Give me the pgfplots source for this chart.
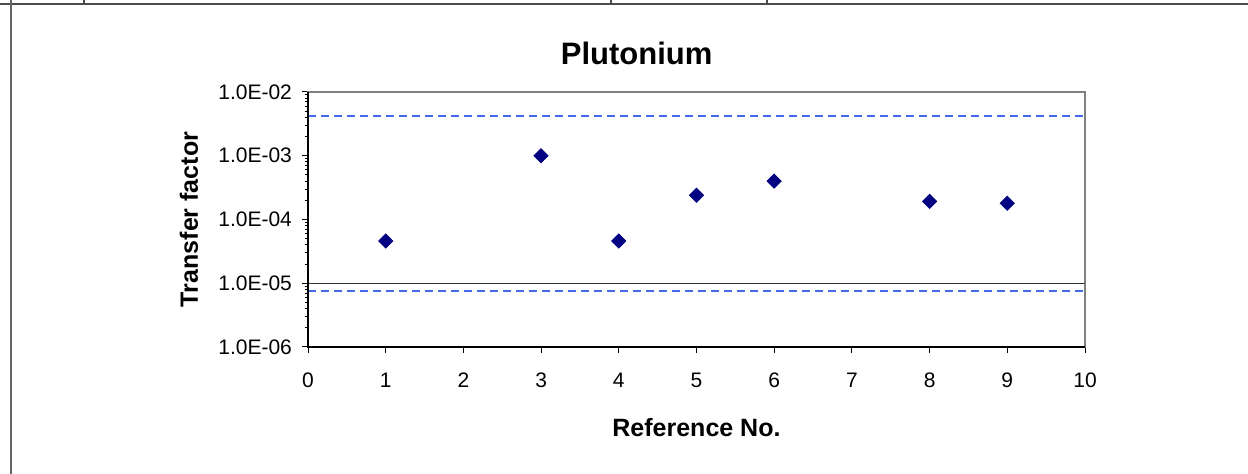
\documentclass[border=0pt]{standalone}
\usepackage{fontspec}
\setmainfont{Liberation Sans}
\usepackage{pgfplots}
\pgfplotsset{compat=1.18}

\definecolor{navymark}{RGB}{0,0,128}
\definecolor{limitblue}{RGB}{70,105,235}
\definecolor{framegray}{RGB}{128,128,128}

\begin{document}
\begin{tikzpicture}
% page size 1248x474 px at 0.5pt per px
\path[use as bounding box] (0,0) rectangle (624pt,237pt);
% table cell lines round the chart
\draw[line width=1pt, black!70] (0,234.75pt) -- (624pt,234.75pt);
\draw[line width=1pt, black!60] (5.5pt,0) -- (5.5pt,237pt);
\foreach \xx in {42,305.5,383.5} \draw[line width=0.6pt, black!70] (\xx pt,234.75pt) -- (\xx pt,237pt);

\begin{axis}[
    at={(154pt,63.5pt)}, anchor=south west,
    scale only axis,
    width=388.5pt, height=127.5pt,
    xmin=0, xmax=10,
    ymode=log, ymin=1e-6, ymax=1e-2,
    xtick={0,1,...,10},
    ytick={1e-6,1e-5,1e-4,1e-3,1e-2},
    yticklabels={1.0E-06,1.0E-05,1.0E-04,1.0E-03,1.0E-02},
    tick align=outside,
    major tick length=3pt, minor tick length=1.7pt,
    xtick pos=bottom, ytick pos=left,
    tick style={black, line width=0.5pt},
    axis line style={framegray, line width=0.8pt},
    /pgf/number format/assume math mode=true,
    tick label style={font=\fontsize{10.5}{12}\selectfont},
    xticklabel style={yshift=-6.5pt},
    yticklabel style={xshift=-1.5pt},
    xlabel={\textbf{Reference No.}},
    ylabel={\textbf{Transfer factor}},
    every axis x label/.style={at={(axis description cs:0.5,0)}, anchor=base, yshift=-45pt, font=\fontsize{12.5}{14}\selectfont},
    every axis y label/.style={at={(axis description cs:0,0.5)}, xshift=-59.5pt, rotate=90, anchor=center, font=\fontsize{12.5}{14}\selectfont},
    clip=false,
]
% guide lines
\addplot[draw=limitblue, line width=0.8pt, dash pattern=on 4pt off 2.5pt] coordinates {(0,4.2e-3) (10,4.2e-3)};
\addplot[black!80, line width=0.6pt] coordinates {(0,1e-5) (10,1e-5)};
\addplot[draw=limitblue, line width=0.7pt, dash pattern=on 4pt off 2.5pt] coordinates {(0,7.6e-6) (10,7.6e-6)};

% data
\addplot[only marks, mark=square*, mark size=2.5pt, mark options={rotate=45, fill=navymark, draw=navymark}]
table[row sep=\\]{
x y\\
1 4.6e-5\\
3 1.0e-3\\
4 4.6e-5\\
5 2.4e-4\\
6 4.0e-4\\
8 1.93e-4\\
9 1.80e-4\\
};

% black left and bottom axis lines
\draw[black, line width=0.8pt] (rel axis cs:0,1) -- (rel axis cs:0,0) -- (rel axis cs:1,0);
\end{axis}

\node[anchor=base, font=\fontsize{15.5}{18}\selectfont\bfseries] at (318.3pt,204.5pt) {Plutonium};
\end{tikzpicture}
\end{document}
